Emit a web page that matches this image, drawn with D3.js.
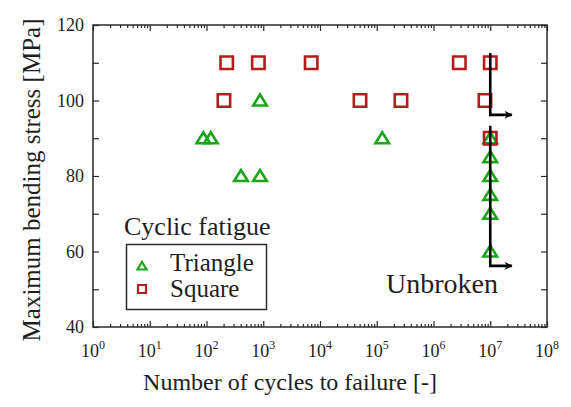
<!DOCTYPE html>
<html>
<head>
<meta charset="utf-8">
<script src="https://cdn.jsdelivr.net/npm/d3@7"></script>
<style>
  html, body { margin: 0; padding: 0; background: #fff; }
  svg { display: block; }
</style>
</head>
<body>
<svg id="chart" width="571" height="407"></svg>
<script>
// Cyclic fatigue results: bending stress vs. cycles to failure
const triangleCycles = [88, 119, 877, 405, 877, 1.25e5, 1e7, 1e7, 1e7, 1e7, 1e7, 1e7];
const triangleStress = [90, 90, 100, 80, 80, 90, 90, 85, 80, 75, 70, 60];

const squareCycles = [227, 820, 7000, 2.85e6, 1e7, 203, 5.07e4, 2.67e5, 8.07e6, 1e7];
const squareStress = [110, 110, 110, 110, 110, 100, 100, 100, 100, 90];

// Run-out (unbroken) arrows: vertical bar then right-pointing arrow
const arrowCycles = [1e7, 1e7];
const arrowTopStress = [112.6, 93.3];
const arrowBottomStress = [96.2, 56.2];
const arrowTipCycles = [2.4e7, 2.4e7];

const xTickExponents = [0, 1, 2, 3, 4, 5, 6, 7, 8];
const yTickValues = [40, 50, 60, 70, 80, 90, 100, 110, 120];
const yTickLabels = [40, 60, 80, 100, 120];

const legendTitle = "Cyclic fatigue";
const legendLabels = ["Triangle", "Square"];
const xTitle = "Number of cycles to failure [-]";
const yTitle = "Maximum bending stress [MPa]";
const noteText = "Unbroken";

const green = "#1aa51a";
const red = "#b41c1c";
const ink = "#2a2a2a";
const serif = "'Liberation Serif', 'DejaVu Serif', serif";

const svg = d3.select("#chart")
  .attr("font-family", serif);
const m = { left: 93, right: 547, top: 25, bottom: 327 };

const x = d3.scaleLog().domain([1, 1e8]).range([m.left, m.right]);
const y = d3.scaleLinear().domain([40, 120]).range([m.bottom, m.top]);

const majors = xTickExponents.map(e => Math.pow(10, e));
const minors = [];
for (let d = 0; d < 8; d++) for (let k = 2; k <= 9; k++) minors.push(k * Math.pow(10, d));

function styleAxis(g) {
  g.attr("font-family", null);
  g.select(".domain").remove();
  g.selectAll("line").attr("stroke", ink).attr("stroke-width", 1.2);
  g.selectAll("text").remove();
}

// tick marks pointing inward on all four sides
svg.append("g").attr("transform", `translate(0,${m.bottom})`)
  .call(d3.axisBottom(x).tickValues(majors).tickSize(-6).tickFormat("")).call(styleAxis);
svg.append("g").attr("transform", `translate(0,${m.bottom})`)
  .call(d3.axisBottom(x).tickValues(minors).tickSize(-3).tickFormat("")).call(styleAxis);
svg.append("g").attr("transform", `translate(0,${m.top})`)
  .call(d3.axisTop(x).tickValues(majors).tickSize(-6).tickFormat("")).call(styleAxis);
svg.append("g").attr("transform", `translate(0,${m.top})`)
  .call(d3.axisTop(x).tickValues(minors).tickSize(-3).tickFormat("")).call(styleAxis);
svg.append("g").attr("transform", `translate(${m.left},0)`)
  .call(d3.axisLeft(y).tickValues(yTickValues).tickSize(-6).tickFormat("")).call(styleAxis);
svg.append("g").attr("transform", `translate(${m.right},0)`)
  .call(d3.axisRight(y).tickValues(yTickValues).tickSize(-6).tickFormat("")).call(styleAxis);

// frame
svg.append("rect")
  .attr("x", m.left).attr("y", m.top)
  .attr("width", m.right - m.left).attr("height", m.bottom - m.top)
  .attr("fill", "none").attr("stroke", ink).attr("stroke-width", 1.5);

const txt = sel => sel.attr("font-family", serif).attr("fill", "#1e1e1e");

// x tick labels as powers of ten
const xl = svg.append("g").selectAll("text").data(xTickExponents).join("text")
  .call(txt)
  .attr("x", e => x(Math.pow(10, e)))
  .attr("y", 357)
  .attr("text-anchor", "middle")
  .attr("font-size", 18);
xl.append("tspan").text("10");
xl.append("tspan").attr("font-size", 12).attr("dy", -8).text(e => e);

// y tick labels
svg.append("g").selectAll("text").data(yTickLabels).join("text")
  .call(txt)
  .attr("x", 84)
  .attr("y", v => y(v))
  .attr("dy", "0.35em")
  .attr("text-anchor", "end")
  .attr("font-size", 18)
  .text(v => v);

// axis titles
svg.append("text").call(txt)
  .attr("x", (m.left + m.right) / 2 - 30)
  .attr("y", 390)
  .attr("text-anchor", "middle")
  .attr("font-size", 24)
  .text(xTitle);

svg.append("text").call(txt)
  .attr("transform", `translate(40,${(m.top + m.bottom) / 2 + 4}) rotate(-90)`)
  .attr("text-anchor", "middle")
  .attr("font-size", 25)
  .text(yTitle);

// marker shapes: open triangle (13 wide, 11 tall) and open square
const triPath = "M0,-6 L6.8,5 L-6.8,5 Z";
const sqSym = d3.symbol().type(d3.symbolSquare).size(154);

const triData = triangleCycles.map((c, i) => ({ c, s: triangleStress[i] }));
const sqData = squareCycles.map((c, i) => ({ c, s: squareStress[i] }));

svg.append("g").selectAll("path").data(triData).join("path")
  .attr("d", triPath)
  .attr("transform", d => `translate(${x(d.c)},${y(d.s)})`)
  .attr("fill", "none").attr("stroke", green).attr("stroke-width", 2.6)
  .attr("stroke-linejoin", "miter");

svg.append("g").selectAll("path").data(sqData).join("path")
  .attr("d", sqSym)
  .attr("transform", d => `translate(${x(d.c)},${y(d.s)})`)
  .attr("fill", "none").attr("stroke", red).attr("stroke-width", 2.6);

// run-out arrows
const defs = svg.append("defs");
defs.append("marker")
  .attr("id", "head")
  .attr("viewBox", "0 0 10 10")
  .attr("refX", 9).attr("refY", 5)
  .attr("markerWidth", 10).attr("markerHeight", 8)
  .attr("markerUnits", "userSpaceOnUse")
  .attr("orient", "auto")
  .append("path").attr("d", "M0,0 L10,5 L0,10 L3,5 Z").attr("fill", "#000");

const arrows = arrowCycles.map((c, i) => ({
  c, top: arrowTopStress[i], bottom: arrowBottomStress[i], tip: arrowTipCycles[i]
}));
svg.append("g").selectAll("path").data(arrows).join("path")
  .attr("d", d => `M${x(d.c)},${y(d.top)} L${x(d.c)},${y(d.bottom)} L${x(d.tip)},${y(d.bottom)}`)
  .attr("fill", "none").attr("stroke", "#000").attr("stroke-width", 2.6)
  .attr("stroke-linejoin", "miter")
  .attr("marker-end", "url(#head)");

svg.append("text").call(txt)
  .attr("x", 386).attr("y", 293)
  .attr("font-size", 28)
  .text(noteText);

// legend
svg.append("text").call(txt)
  .attr("x", 124).attr("y", 235)
  .attr("font-size", 26)
  .text(legendTitle);

svg.append("rect")
  .attr("x", 126.5).attr("y", 244.5)
  .attr("width", 140).attr("height", 65)
  .attr("fill", "none").attr("stroke", ink).attr("stroke-width", 1.5);

svg.append("path")
  .attr("d", "M0,-4 L4.5,3.5 L-4.5,3.5 Z")
  .attr("transform", "translate(142,266)")
  .attr("fill", "none").attr("stroke", green).attr("stroke-width", 2.2);
svg.append("path")
  .attr("d", d3.symbol().type(d3.symbolSquare).size(64))
  .attr("transform", "translate(142,289)")
  .attr("fill", "none").attr("stroke", red).attr("stroke-width", 2.2);

svg.append("text").call(txt).attr("x", 170).attr("y", 271).attr("font-size", 25).text(legendLabels[0]);
svg.append("text").call(txt).attr("x", 170).attr("y", 297).attr("font-size", 25).text(legendLabels[1]);
</script>
</body>
</html>
